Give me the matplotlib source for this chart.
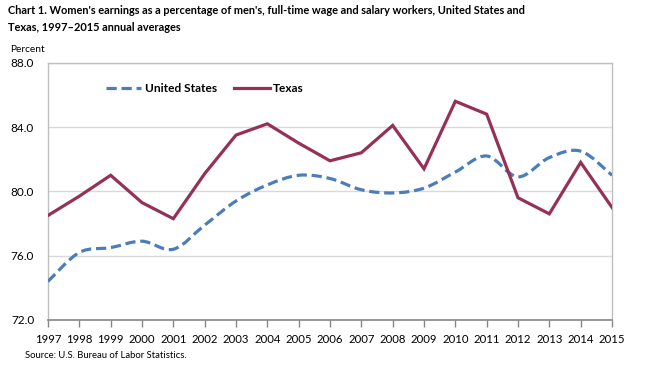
import matplotlib
matplotlib.use("Agg")
import matplotlib.pyplot as plt
from matplotlib.path import Path
from matplotlib.patches import PathPatch
from matplotlib.lines import Line2D
import numpy as np

years = list(range(1997, 2016))
us = [74.4, 76.2, 76.5, 76.9, 76.4, 77.9, 79.4, 80.4, 81.0, 80.8,
      80.1, 79.9, 80.2, 81.2, 82.2, 80.9, 82.1, 82.5, 81.0]
texas = [78.5, 79.7, 81.0, 79.3, 78.3, 81.1, 83.5, 84.2, 83.0, 81.9,
         82.4, 84.1, 81.4, 85.6, 84.8, 79.6, 78.6, 81.8, 79.0]
yticks = [72.0, 76.0, 80.0, 84.0, 88.0]

US_COLOR = "#4A7EBB"
TX_COLOR = "#953158"
FONT = "Lato"
LW = 2.3

plt.rcParams['font.family'] = [FONT, 'DejaVu Sans']

fig = plt.figure(figsize=(6.47, 3.67), dpi=100)
ax = fig.add_axes([48 / 647, 1 - 320 / 367, (612 - 48) / 647, (320 - 62.7) / 367])


def smooth_path(xs, ys, t=1 / 6):
    xs = np.asarray(xs, float)
    ys = np.asarray(ys, float)
    n = len(xs)
    verts = [(xs[0], ys[0])]
    codes = [Path.MOVETO]
    for i in range(n - 1):
        x0, y0 = (xs[i - 1], ys[i - 1]) if i > 0 else (xs[i], ys[i])
        x1, y1 = xs[i], ys[i]
        x2, y2 = xs[i + 1], ys[i + 1]
        x3, y3 = (xs[i + 2], ys[i + 2]) if i + 2 < n else (x2, y2)
        c1 = (x1 + (x2 - x0) * t, y1 + (y2 - y0) * t)
        c2 = (x2 - (x3 - x1) * t, y2 - (y3 - y1) * t)
        verts += [c1, c2, (x2, y2)]
        codes += [Path.CURVE4] * 3
    return Path(verts, codes)


DASH = (0, (3.2, 1.5))
us_patch = PathPatch(smooth_path(years, us), facecolor="none", edgecolor=US_COLOR,
                     lw=LW, linestyle=DASH, capstyle="butt", zorder=3)
ax.add_patch(us_patch)
ax.plot(years, texas, color=TX_COLOR, lw=LW, zorder=4, solid_joinstyle="miter")

ax.set_xlim(1997, 2015)
ax.set_ylim(72, 88)
ax.set_yticks(yticks)
ax.set_yticklabels([f"{v:.1f}" for v in yticks], fontsize=8.5)
ax.set_xticks(years)
ax.set_xticklabels([str(y) for y in years], fontsize=8.2)
ax.grid(axis="y", color="#D9D9D9", lw=1)
ax.set_axisbelow(True)
for s in ["top", "right", "left"]:
    ax.spines[s].set_color("#BFBFBF")
    ax.spines[s].set_linewidth(1)
ax.spines["bottom"].set_color("#868686")
ax.spines["bottom"].set_linewidth(1.2)
ax.tick_params(axis="y", length=0, pad=10, colors="#000000")
ax.tick_params(axis="x", length=5, width=1, color="#868686", pad=5)

handles = [Line2D([], [], color=US_COLOR, lw=LW, linestyle=DASH),
           Line2D([], [], color=TX_COLOR, lw=LW)]
leg = ax.legend(handles, ["United States", "Texas"], ncol=2, frameon=False,
                loc="center left", bbox_to_anchor=(0.083, 0.9),
                prop={"family": FONT, "weight": "bold", "size": 8.6},
                handlelength=3.0, handletextpad=0.3, columnspacing=1.4)

fig.text(8 / 647, 1 - 5 / 367,
         "Chart 1. Women's earnings as a percentage of men's, full-time wage and salary workers, United States and\nTexas, 1997\u20132015 annual averages",
         ha="left", va="top", fontsize=7.9, fontweight="bold", linespacing=1.65)
fig.text(10 / 647, 1 - 50 / 367, "Percent", ha="left", va="center", fontsize=7.3)
fig.text(25 / 647, 1 - 355 / 367, "Source: U.S. Bureau of Labor Statistics.", ha="left", va="center", fontsize=6.8)

fig.savefig("out.png", dpi=100)
